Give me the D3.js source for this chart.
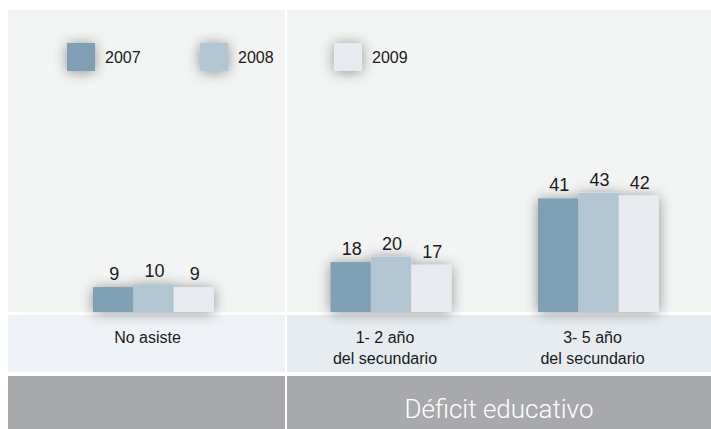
<!DOCTYPE html>
<html>
<head>
<meta charset="utf-8">
<script src="https://cdn.jsdelivr.net/npm/d3@7"></script>
<style>
  html, body { margin: 0; padding: 0; background: #ffffff; }
  svg { display: block; font-family: "Liberation Sans", Arial, sans-serif; }
</style>
</head>
<body>
<div id="chart"></div>
<script>
const categories = ["No asiste", "1- 2 año|del secundario", "3- 5 año|del secundario"];
const years = ["2007", "2008", "2009"];
const values2007 = [9, 18, 41];
const values2008 = [10, 20, 43];
const values2009 = [9, 17, 42];
const groupTitle = "Déficit educativo";

const colors = ["#7f9fb5", "#b1c6d2", "#e7ebef"];

const W = 711, H = 429;
const plotTop = 10, baseline = 312;
const leftX = 8, splitX = 286;

const svg = d3.select("#chart").append("svg")
  .attr("width", W).attr("height", H);

// soft shadow used by bars and legend swatches
const defs = svg.append("defs");
const f = defs.append("filter").attr("id", "shadow")
  .attr("x", "-60%").attr("y", "-60%").attr("width", "220%").attr("height", "220%");
f.append("feGaussianBlur").attr("in", "SourceAlpha").attr("stdDeviation", 7).attr("result", "b");
f.append("feOffset").attr("in", "b").attr("dx", 0).attr("dy", 1).attr("result", "o");
f.append("feComponentTransfer").attr("in", "o").attr("result", "s")
  .append("feFuncA").attr("type", "linear").attr("slope", 0.42);
const m = f.append("feMerge");
m.append("feMergeNode").attr("in", "s");
m.append("feMergeNode").attr("in", "SourceGraphic");

// panels
svg.append("rect").attr("x", leftX).attr("y", plotTop)
  .attr("width", splitX - 1 - leftX).attr("height", baseline - plotTop).attr("fill", "#f3f4f4");
svg.append("rect").attr("x", splitX + 1).attr("y", plotTop)
  .attr("width", W - splitX - 1).attr("height", baseline - plotTop).attr("fill", "#f3f4f4");
svg.append("rect").attr("x", leftX).attr("y", 315)
  .attr("width", splitX - 1 - leftX).attr("height", 57).attr("fill", "#eff3f7");
svg.append("rect").attr("x", splitX + 1).attr("y", 315)
  .attr("width", W - splitX - 1).attr("height", 57).attr("fill", "#e7ecf1");
svg.append("rect").attr("x", leftX).attr("y", 376)
  .attr("width", splitX - 1 - leftX).attr("height", H - 376).attr("fill", "#a8a9ac");
svg.append("rect").attr("x", splitX + 1).attr("y", 376)
  .attr("width", W - splitX - 1).attr("height", H - 376).attr("fill", "#a8a9ac");

// scales
const y = d3.scaleLinear().domain([0, 100]).range([baseline, baseline - 277]);
const groupX = d3.scaleOrdinal().domain(categories).range([153.5, 391, 598.5]);
const inner = d3.scaleBand().domain(years).range([-60.5, 60.5]).padding(0);

const data = categories.map((c, i) => ({
  cat: c,
  vals: [values2007[i], values2008[i], values2009[i]]
}));

const groups = svg.selectAll("g.grp").data(data).enter().append("g")
  .attr("class", "grp")
  .attr("transform", d => `translate(${groupX(d.cat)},0)`);

groups.append("g").attr("filter", "url(#shadow)")
  .selectAll("rect").data(d => d.vals.map((v, k) => ({ v, yr: years[k], k })))
  .enter().append("rect")
  .attr("x", d => inner(d.yr))
  .attr("width", inner.bandwidth())
  .attr("y", d => y(d.v))
  .attr("height", d => baseline - y(d.v))
  .attr("fill", d => colors[d.k]);

groups.selectAll("text.val").data(d => d.vals.map((v, k) => ({ v, yr: years[k] })))
  .enter().append("text").attr("class", "val")
  .attr("x", d => inner(d.yr) + inner.bandwidth() / 2 + 1)
  .attr("y", d => y(d.v) - 7)
  .attr("text-anchor", "middle")
  .attr("font-size", 18)
  .attr("fill", "#1a1a1a")
  .text(d => d.v);

// category labels
groups.each(function(d) {
  const lines = d.cat.split("|");
  const t = d3.select(this).append("text")
    .attr("text-anchor", "middle")
    .attr("font-size", 16)
    .attr("fill", "#1a1a1a");
  lines.forEach((ln, i) => {
    t.append("tspan").attr("x", -6).attr("y", 343 + i * 21).text(ln);
  });
});

// group title
svg.append("text")
  .attr("x", (splitX + 1 + W) / 2).attr("y", 418)
  .attr("text-anchor", "middle")
  .attr("font-family", "Roboto, 'Liberation Sans', sans-serif")
  .attr("font-weight", 300)
  .attr("font-size", 26)
  .attr("fill", "#ffffff")
  .text(groupTitle);

// legend
const legendX = d3.scaleOrdinal().domain(years).range([67, 200, 334]);
const lg = svg.selectAll("g.lg").data(years).enter().append("g")
  .attr("class", "lg")
  .attr("transform", d => `translate(${legendX(d)},43)`);
lg.append("rect").attr("width", 28).attr("height", 28)
  .attr("fill", (d, i) => colors[i]).attr("filter", "url(#shadow)");
lg.append("text").attr("x", 38).attr("y", 20)
  .attr("font-size", 16).attr("fill", "#1a1a1a").text(d => d);
</script>
</body>
</html>
